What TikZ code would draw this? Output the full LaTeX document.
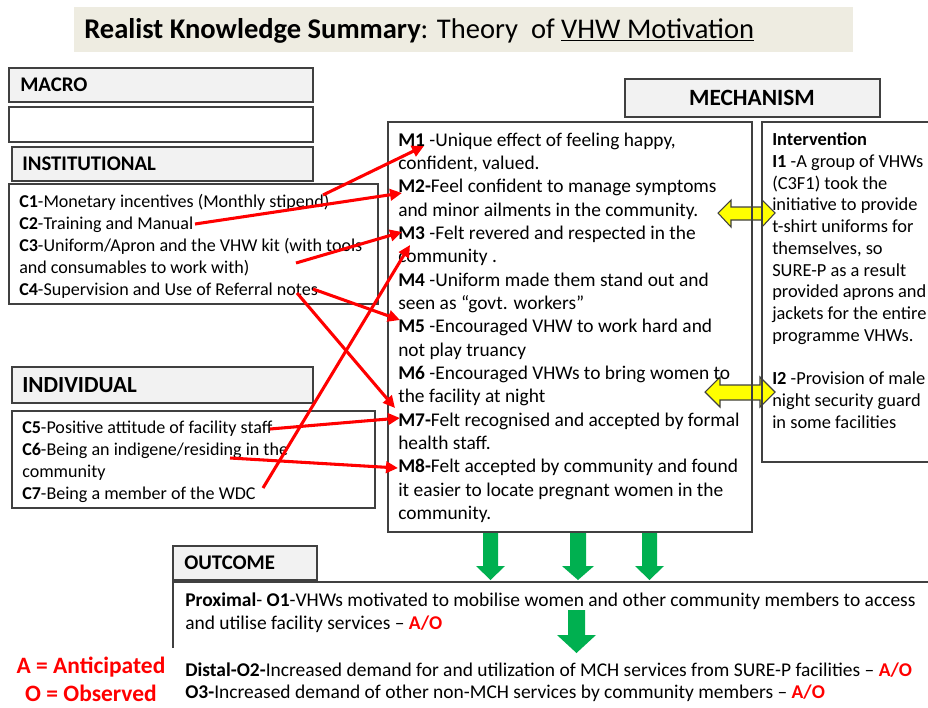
\documentclass[tikz,border=0pt]{standalone}
\usepackage{fontspec}
\setmainfont{Carlito}
\usetikzlibrary{arrows.meta}
\definecolor{bordc}{HTML}{404040}
\definecolor{labfill}{HTML}{F2F2F2}
\definecolor{titfill}{HTML}{EEECE1}
\definecolor{redc}{HTML}{FF0000}
\definecolor{greenc}{HTML}{00B050}
\definecolor{yellc}{HTML}{FFFF00}
\tikzset{
  labbox/.style={draw=bordc, fill=labfill, line width=1pt},
  plainbox/.style={draw=bordc, line width=1pt},
  txt/.style={anchor=north west, inner sep=0pt, align=left},
  redarr/.style={draw=redc, line width=2.3pt, -{Triangle[length=9pt,width=8.5pt]}},
  greenarr/.style={fill=greenc, draw=none},
  yellarr/.style={fill=yellc, draw=bordc, line width=0.8pt},
}
\begin{document}
\begin{tikzpicture}[x=0.75pt,y=-0.75pt]
\useasboundingbox (0,0) rectangle (928,707);
% title
\fill[titfill] (74,7) rectangle (853,52);
\node[anchor=west, inner sep=0pt, font={\fontsize{21.4}{24}\selectfont}] (title) at (84,31)
  {\textbf{Realist Knowledge Summary}: Theory\ \ of \underline{VHW Motivation}};
% left label boxes
\draw[labbox] (9,68) rectangle (313,102);
\node[anchor=west, inner sep=0pt, font={\bfseries\fontsize{15.6}{18}\selectfont}] (macro) at (20,85) {MACRO};
\draw[plainbox] (9,107) rectangle (313,142);
\coordinate (macrobody) at (161,124);
\draw[labbox] (12,147) rectangle (313,181);
\node[anchor=west, inner sep=0pt, font={\bfseries\fontsize{15.6}{18}\selectfont}] (inst) at (22,164) {INSTITUTIONAL};
\draw[plainbox] (9,184) rectangle (378,304);
\node[txt, font={\fontsize{13.55}{16.5}\selectfont}] (instbody) at (19,194)
  {\textbf{C1}-Monetary incentives (Monthly stipend)\\
   \textbf{C2}-Training and Manual\\
   \textbf{C3}-Uniform/Apron and the VHW kit (with tools\\
   and consumables to work with)\\
   \textbf{C4}-Supervision and Use of Referral notes};
\draw[labbox] (12,367) rectangle (313,403);
\node[anchor=west, inner sep=0pt, font={\bfseries\fontsize{17.3}{20}\selectfont}] (indiv) at (22,385) {INDIVIDUAL};
\draw[plainbox] (12,411) rectangle (375,508);
\node[txt, font={\fontsize{13.55}{16.5}\selectfont}] (indivbody) at (22,421)
  {\textbf{C5}-Positive attitude of facility staff\\
   \textbf{C6}-Being an indigene/residing in the\\
   community\\
   \textbf{C7}-Being a member of the WDC};
% mechanism
\draw[labbox] (625,79) rectangle (880,117);
\node[font={\bfseries\fontsize{17.5}{20}\selectfont}, inner sep=0pt] (mech) at (752,98) {MECHANISM};
% yellow arrows (under borders)
\draw[yellarr] (718,213) -- (731,200) -- (731,207) -- (762,207) -- (762,200) -- (775,213)
  -- (762,227) -- (762,220) -- (731,220) -- (731,227) -- cycle;
\draw[yellarr] (705,392) -- (720,377) -- (720,385) -- (760,385) -- (760,377) -- (775,392)
  -- (760,407) -- (760,400) -- (720,400) -- (720,407) -- cycle;
\draw[plainbox] (388,122) rectangle (752,532);
\node[txt, font={\fontsize{14.55}{17.5}\selectfont}] (mbox) at (398,132.5)
  {\textbf{M1} -Unique effect of feeling happy,\\
   confident, valued.\\
   \textbf{M2-}Feel confident to manage symptoms\\
   and minor ailments in the community.\\
   \textbf{M3} -Felt revered and respected in the\\
   community .\\
   \textbf{M4} -Uniform made them stand out and\\
   seen as “govt. workers”\\
   \textbf{M5} -Encouraged VHW to work hard and\\
   not play truancy\\
   \textbf{M6} -Encouraged VHWs to bring women to\\
   the facility at night\\
   \textbf{M7-}Felt recognised and accepted by formal\\
   health staff.\\
   \textbf{M8-}Felt accepted by community and found\\
   it easier to locate pregnant women in the\\
   community.};
\draw[plainbox] (930,122) -- (762,122) -- (762,462) -- (930,462);
\node[txt, font={\fontsize{13.8}{16.3}\selectfont}] (ibox) at (772,132.5)
  {\textbf{Intervention}\\
   \textbf{I1} -A group of VHWs\\
   (C3F1) took the\\
   initiative to provide\\
   t-shirt uniforms for\\
   themselves, so\\
   SURE-P as a result\\
   provided aprons and\\
   jackets for the entire\\
   programme VHWs.\\[16.3pt]
   \textbf{I2} -Provision of male\\
   night security guard\\
   in some facilities};
% red arrows
\coordinate (c1) at (323,195);  \coordinate (m1) at (424,146);
\coordinate (c2) at (195,224);  \coordinate (m2) at (402,193);
\coordinate (c3) at (296,263);  \coordinate (m3) at (402,232);
\coordinate (c4a) at (313,289); \coordinate (m5) at (400,320);
\coordinate (c4b) at (297,293); \coordinate (m7a) at (395,408);
\coordinate (c5) at (270,429);  \coordinate (m7b) at (400,418);
\coordinate (c6) at (230,458);  \coordinate (m8) at (398,468);
\coordinate (c7) at (263,488);  \coordinate (m3b) at (410,245);
\draw[redarr] (c1) -- (m1);
\draw[redarr] (c2) -- (m2);
\draw[redarr] (c3) -- (m3);
\draw[redarr] (c4a) -- (m5);
\draw[redarr] (c4b) -- (m7a);
\draw[redarr] (c5) -- (m7b);
\draw[redarr] (c6) -- (m8);
\draw[redarr] (c7) -- (m3b);
% green arrows
\foreach \cx/\sw/\hw in {490.5/7.5/14.5, 578/8/16, 649.5/7.5/14.5}{
  \fill[greenarr] (\cx-\sw,533) -- (\cx+\sw,533) -- (\cx+\sw,566) -- (\cx+\hw,566)
    -- (\cx,580) -- (\cx-\hw,566) -- (\cx-\sw,566) -- cycle;
}
\fill[greenarr] (568,610) -- (585,610) -- (585,635) -- (596,635) -- (576.5,653)
  -- (557,635) -- (568,635) -- cycle;
% outcome
\draw[labbox] (173,546) rectangle (317,580);
\node[anchor=west, inner sep=0pt, font={\bfseries\fontsize{15.6}{18}\selectfont}] (outc) at (184,563) {OUTCOME};
\draw[plainbox] (173,648) -- (173,582) -- (930,582);
\node[txt, font={\fontsize{14.6}{17.2}\selectfont}] (outbody) at (185,593)
  {\textbf{Proximal}- \textbf{O1}-VHWs motivated to mobilise women and other community members to access\\
   and utilise facility services – \textcolor{redc}{\textbf{A/O}}};
\node[txt, font={\fontsize{14.6}{16.5}\selectfont}] (distal) at (185,663)
  {\textbf{Distal-O2-}Increased demand for and utilization of MCH services from SURE-P facilities – \textcolor{redc}{\textbf{A/O}}\\
   \textbf{O3-}Increased demand of other non-MCH services by community members – \textcolor{redc}{\textbf{A/O}}};
% legend
\node[inner sep=0pt, text=redc, font={\bfseries\fontsize{17.6}{20}\selectfont}] (legA) at (91,667) {A = Anticipated};
\node[inner sep=0pt, text=redc, font={\bfseries\fontsize{17.6}{20}\selectfont}] (legO) at (91,693) {O = Observed};
\end{tikzpicture}
\end{document}
